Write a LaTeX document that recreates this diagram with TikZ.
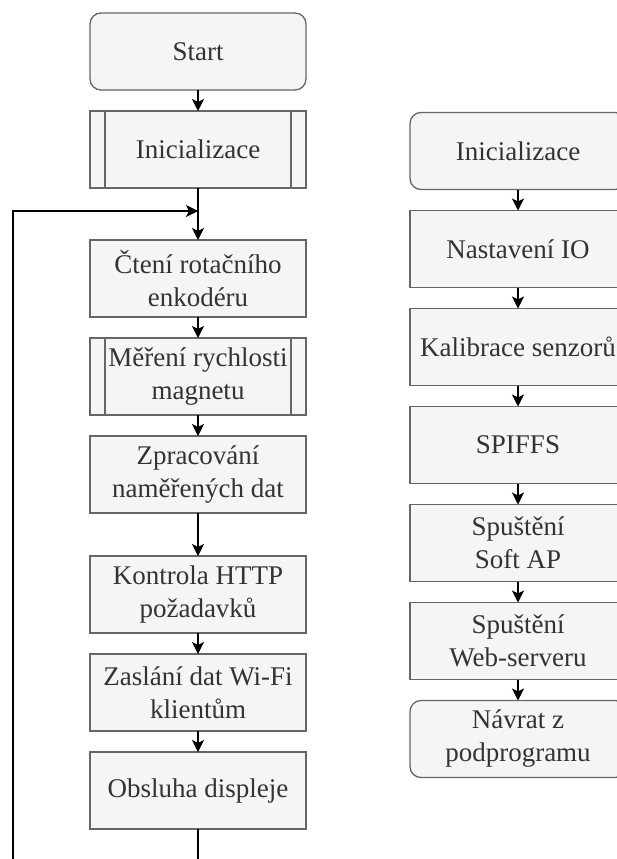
\documentclass[tikz,border=0pt]{standalone}
\usepackage{fontspec}
\setmainfont{Liberation Serif}
\usepackage{xcolor}
\usepackage{tikz}
\usetikzlibrary{positioning}
\usetikzlibrary{arrows.meta}
\definecolor{boxfill}{HTML}{F5F5F5}
\definecolor{boxline}{HTML}{666666}
\definecolor{boxtext}{HTML}{333333}
\tikzset{
    every picture/.style={x=1pt,y=-1pt},
    base/.style={draw=boxline, fill=boxfill, text=boxtext, line width=1.3pt,
          minimum width=216pt, minimum height=77pt, outer sep=0pt, inner sep=1pt,
          align=center, font=\fontsize{27}{33}\selectfont},
    proc/.style={base},
    term/.style={base, rounded corners=11pt},
    sub/.style={base, path picture={
          \draw[boxline, line width=1.3pt]
            ([xshift=15pt]path picture bounding box.north west) -- ([xshift=15pt]path picture bounding box.south west)
            ([xshift=-15pt]path picture bounding box.north east) -- ([xshift=-15pt]path picture bounding box.south east);
          }},
    flow/.style={line width=1.5pt, -{Stealth[length=12pt,width=12pt,inset=3pt]}},
    wire/.style={line width=1.5pt},
}

\begin{document}
\begin{tikzpicture}[node distance=21pt]
    \useasboundingbox (0,0) rectangle (617,859);
    % main loop
    \node[term] (start) at (198,51.5) {Start};
    \node[sub, below=of start] (init) {Inicializace};
    \node[proc, below=52pt of init] (cteni) {Čtení rotačního\\enkodéru};
    \node[sub, below=of cteni] (mereni) {Měření rychlosti\\magnetu};
    \node[proc, below=of mereni] (zprac) {Zpracování\\naměřených dat};
    \node[proc, below=43pt of zprac] (http) {Kontrola HTTP\\požadavků};
    \node[proc, below=of http] (wifi) {Zaslání dat Wi-Fi\\klientům};
    \node[proc, below=of wifi] (displej) {Obsluha displeje};
    % subroutine
    \node[term] (rinit) at (518,151) {Inicializace};
    \node[proc, below=of rinit] (io) {Nastavení IO};
    \node[proc, below=of io] (kalib) {Kalibrace senzorů};
    \node[proc, below=of kalib] (spiffs) {SPIFFS};
    \node[proc, below=of spiffs] (softap) {Spuštění\\Soft AP};
    \node[proc, below=of softap] (web) {Spuštění\\Web-serveru};
    \node[term, below=of web] (navrat) {Návrat z\\podprogramu};

    \coordinate (merge) at (198,211);
    \coordinate (loop) at (13,870);

    \draw[flow] (start) -- (init);
    \draw[flow] (init) -- (cteni);
    \draw[flow] (cteni) -- (mereni);
    \draw[flow] (mereni) -- (zprac);
    \draw[flow] (zprac) -- (http);
    \draw[flow] (http) -- (wifi);
    \draw[flow] (wifi) -- (displej);
    \draw[wire] (displej.south) -- (displej.south |- loop);
    \draw[flow] (loop) |- (merge);

    \draw[flow] (rinit) -- (io);
    \draw[flow] (io) -- (kalib);
    \draw[flow] (kalib) -- (spiffs);
    \draw[flow] (spiffs) -- (softap);
    \draw[flow] (softap) -- (web);
    \draw[flow] (web) -- (navrat);
\end{tikzpicture}
\end{document}
